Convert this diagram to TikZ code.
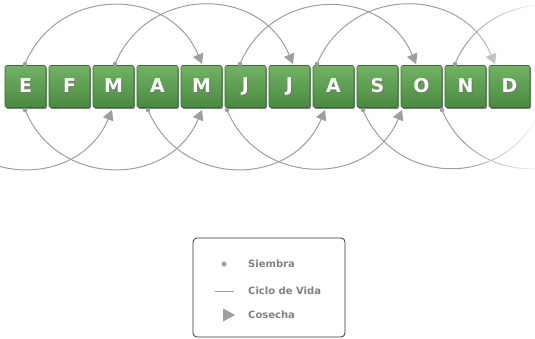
\documentclass[tikz,border=0pt]{standalone}
\usepackage{fontspec}
\setmainfont{DejaVu Sans}
\usetikzlibrary{arrows.meta,shadows,fadings,shapes.geometric}

\definecolor{boxlight}{RGB}{114,178,100}
\definecolor{boxdark}{RGB}{74,138,64}
\definecolor{boxedge}{RGB}{60,104,54}
\definecolor{cyclegray}{RGB}{158,158,158}
\definecolor{legendtext}{RGB}{128,128,128}

% white veil that grows opaque towards the right edge
\tikzfading[name=veilright, left color=transparent!100, right color=transparent!8]

% white letter with a small dark drop shadow
\newcommand\shadowedletter[1]{\makebox[0pt][l]{\hspace{1pt}\raisebox{-1pt}{\color{black!55}#1}}#1}

\begin{document}
\begin{tikzpicture}[x=1pt,y=1pt,
  month/.style={rectangle, rounded corners=1.5pt, minimum width=41pt, minimum height=42pt,
    inner sep=0pt, top color=boxlight, bottom color=boxdark, draw=boxedge, line width=0.6pt,
    drop shadow={shadow xshift=1pt, shadow yshift=-1.3pt, fill=black!55, opacity=0.9},
    font=\fontsize{19}{19}\selectfont\bfseries, text=white},
  sowdot/.style={circle, fill=cyclegray, inner sep=0pt, minimum size=4.5pt},
  lifeline/.style={draw=cyclegray, line width=1pt, -{Triangle[length=10pt,width=11pt]}},
  openline/.style={draw=cyclegray, line width=1pt},
  over/.style={out=67.3, in=112.7, looseness=1.23},
  under/.style={out=-67.3, in=-112.7, looseness=1.23},
  legendbox/.style={rectangle, rounded corners=4pt, draw=black!80, line width=0.8pt,
    minimum width=152pt, minimum height=99pt, inner sep=0pt},
  legendlabel/.style={anchor=west, inner sep=0pt, text=legendtext,
    font=\fontsize{10}{10}\selectfont\bfseries}
]
\useasboundingbox (0,0) rectangle (535,-339);
\begin{scope}
\clip (0,0) rectangle (535,-339);

% sowing points (top and bottom of the month row)
\coordinate (ts1) at (25,-64);   \coordinate (th1) at (202,-64);
\coordinate (ts2) at (115,-64);  \coordinate (th2) at (293,-64);
\coordinate (ts3) at (240,-64);  \coordinate (th3) at (416,-64);
\coordinate (ts4) at (317,-64);  \coordinate (th4) at (495,-64);
\coordinate (ts5) at (455,-64);  \coordinate (th5) at (632,-64);

\coordinate (bs0) at (-65,-110); \coordinate (bh0) at (112,-110);
\coordinate (bs1) at (25,-110);  \coordinate (bh1) at (202,-110);
\coordinate (bs2) at (148,-110); \coordinate (bh2) at (325,-110);
\coordinate (bs3) at (227,-110); \coordinate (bh3) at (402,-110);
\coordinate (bs4) at (363,-110); \coordinate (bh4) at (540,-110);
\coordinate (bs5) at (442,-110); \coordinate (bh5) at (619,-110);

% life cycles above the row
\draw[lifeline] (ts1) to[over] (th1);
\draw[lifeline] (ts2) to[over] (th2);
\draw[lifeline] (ts3) to[over] (th3);
\draw[lifeline] (ts4) to[over] (th4);
\draw[openline] (ts5) to[over] (th5);

% life cycles below the row
\draw[lifeline] (bs0) to[under] (bh0);
\draw[lifeline] (bs1) to[under] (bh1);
\draw[lifeline] (bs2) to[under] (bh2);
\draw[lifeline] (bs3) to[under] (bh3);
\draw[openline] (bs4) to[under] (bh4);
\draw[openline] (bs5) to[under] (bh5);

% fade the cycles out towards the right edge
\fill[white, path fading=veilright] (462,0) rectangle (535,-190);

% month row
\foreach \m [count=\i from 0] in {E,F,M,A,M,J,J,A,S,O,N,D}
  \node[month] (m\i) at ({25.5+44*\i},-86.5) {\shadowedletter{\m}};

% sowing dots
\foreach \p in {ts1,ts2,ts3,ts4,ts5,bs1,bs2,bs3,bs4,bs5}
  \node[sowdot] (dot-\p) at (\p) {};

% legend
\node[legendbox] (legend) at (269,-287.5) {};
\node[sowdot, minimum size=5pt] (keysow) at (224,-264) {};
\node[legendlabel] (keysowtext) at (248,-264) {Siembra};
\coordinate (keylinea) at (215,-291);
\coordinate (keylineb) at (234,-291);
\draw[openline] (keylinea) -- (keylineb);
\node[legendlabel] (keylinetext) at (248,-291) {Ciclo de Vida};
\node[isosceles triangle, isosceles triangle stretches, fill=cyclegray, inner sep=0pt,
  minimum height=12pt, minimum width=13pt] (keyharvest) at (227,-315) {};
\node[legendlabel] (keyharvesttext) at (248,-315) {Cosecha};
\end{scope}
\end{tikzpicture}
\end{document}
